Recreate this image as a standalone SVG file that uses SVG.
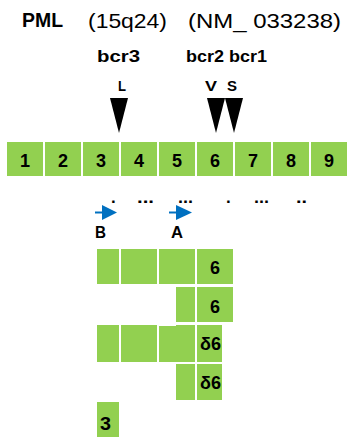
<svg xmlns="http://www.w3.org/2000/svg" width="347" height="437" viewBox="0 0 347 437">
<style>
.ex{fill:#92D050}
.t{font-family:"Liberation Sans",Arial,sans-serif;fill:#000}
.b{font-weight:bold}
.n{font-family:"Liberation Sans",Arial,sans-serif;font-weight:bold;font-size:18px;text-anchor:middle}
.tri{fill:#000}
.blue{fill:#0070C0}
</style>
<rect width="347" height="437" fill="#fff"/>
<g id="header">
<text class="t b" x="22" y="27" font-size="21" textLength="41" lengthAdjust="spacingAndGlyphs">PML</text>
<text class="t" x="88" y="28" font-size="21" textLength="79" lengthAdjust="spacingAndGlyphs">(15q24)</text>
<text class="t" x="188" y="28" font-size="21" textLength="153" lengthAdjust="spacingAndGlyphs">(NM_ 033238)</text>
</g>
<g id="breakpoints">
<text class="t b" x="97" y="62" font-size="17" textLength="43" lengthAdjust="spacingAndGlyphs">bcr3</text>
<text class="t b" x="186" y="62" font-size="17" textLength="81" lengthAdjust="spacingAndGlyphs">bcr2 bcr1</text>
<text class="t b" x="118" y="91" font-size="14" textLength="8" lengthAdjust="spacingAndGlyphs">L</text>
<text class="t b" x="205" y="91" font-size="14" textLength="12" lengthAdjust="spacingAndGlyphs">V</text>
<text class="t b" x="227" y="91" font-size="14" textLength="10" lengthAdjust="spacingAndGlyphs">S</text>
<polygon class="tri" points="110,98 128,98 119,133"/>
<polygon class="tri" points="207,98 225,98 216,133"/>
<polygon class="tri" points="225,98 243,98 234,133"/>
</g>
<g id="exons">
<rect class="ex" x="7" y="142" width="36" height="34"/>
<rect class="ex" x="45" y="142" width="36" height="34"/>
<rect class="ex" x="83" y="142" width="36" height="34"/>
<rect class="ex" x="121" y="142" width="36" height="34"/>
<rect class="ex" x="159" y="142" width="36" height="34"/>
<rect class="ex" x="197" y="142" width="36" height="34"/>
<rect class="ex" x="235" y="142" width="36" height="34"/>
<rect class="ex" x="273" y="142" width="36" height="34"/>
<rect class="ex" x="311" y="142" width="36" height="34"/>
<text class="n" x="25" y="167">1</text>
<text class="n" x="63" y="167">2</text>
<text class="n" x="101" y="167">3</text>
<text class="n" x="139" y="167">4</text>
<text class="n" x="177" y="167">5</text>
<text class="n" x="215" y="167">6</text>
<text class="n" x="253" y="167">7</text>
<text class="n" x="291" y="167">8</text>
<text class="n" x="329" y="167">9</text>
</g>
<g id="dots">
<text class="t b" x="111" y="203" font-size="17">.</text>
<text class="t b" x="137" y="203" font-size="17" textLength="17" lengthAdjust="spacingAndGlyphs">...</text>
<text class="t b" x="178" y="203" font-size="17" textLength="15" lengthAdjust="spacingAndGlyphs">...</text>
<text class="t b" x="226" y="203" font-size="17">.</text>
<text class="t b" x="254" y="203" font-size="17" textLength="15" lengthAdjust="spacingAndGlyphs">...</text>
<text class="t b" x="296" y="203" font-size="17" textLength="11" lengthAdjust="spacingAndGlyphs">..</text>
</g>
<g id="primers">
<line x1="95" y1="212.5" x2="104" y2="212.5" stroke="#0070C0" stroke-width="2"/>
<polygon class="blue" points="102,205 117,212.5 102,220"/>
<line x1="169" y1="212.5" x2="178" y2="212.5" stroke="#0070C0" stroke-width="2"/>
<polygon class="blue" points="176,205 192,212.5 176,220"/>
<text class="t b" x="95" y="238" font-size="17" textLength="11" lengthAdjust="spacingAndGlyphs">B</text>
<text class="t b" x="171" y="238" font-size="17" textLength="12" lengthAdjust="spacingAndGlyphs">A</text>
</g>
<g id="transcript1">
<rect class="ex" x="97" y="249" width="22" height="35"/>
<rect class="ex" x="121" y="249" width="36" height="35"/>
<rect class="ex" x="159" y="249" width="36" height="35"/>
<rect class="ex" x="197" y="249" width="36" height="35"/>
<text class="n" x="215" y="274">6</text>
</g>
<g id="transcript2">
<rect class="ex" x="176" y="287" width="19" height="35"/>
<rect class="ex" x="197" y="287" width="36" height="35"/>
<text class="n" x="215" y="313">6</text>
</g>
<g id="transcript3">
<rect class="ex" x="97" y="325" width="22" height="37"/>
<rect class="ex" x="121" y="325" width="36" height="37"/>
<rect class="ex" x="159" y="326" width="36" height="36"/>
<rect class="ex" x="176" y="325" width="19" height="37"/>
<rect class="ex" x="197" y="325" width="25" height="37"/>
<text class="t b" x="200" y="350" font-size="18" textLength="21" lengthAdjust="spacingAndGlyphs">δ6</text>
</g>
<g id="transcript4">
<rect class="ex" x="176" y="364" width="19" height="36"/>
<rect class="ex" x="197" y="364" width="25" height="36"/>
<text class="t b" x="200" y="389" font-size="18" textLength="21" lengthAdjust="spacingAndGlyphs">δ6</text>
</g>
<g id="transcript5">
<rect class="ex" x="97" y="402" width="22" height="35"/>
<text class="t b" x="100" y="430" font-size="18" textLength="11" lengthAdjust="spacingAndGlyphs">3</text>
</g>
</svg>
